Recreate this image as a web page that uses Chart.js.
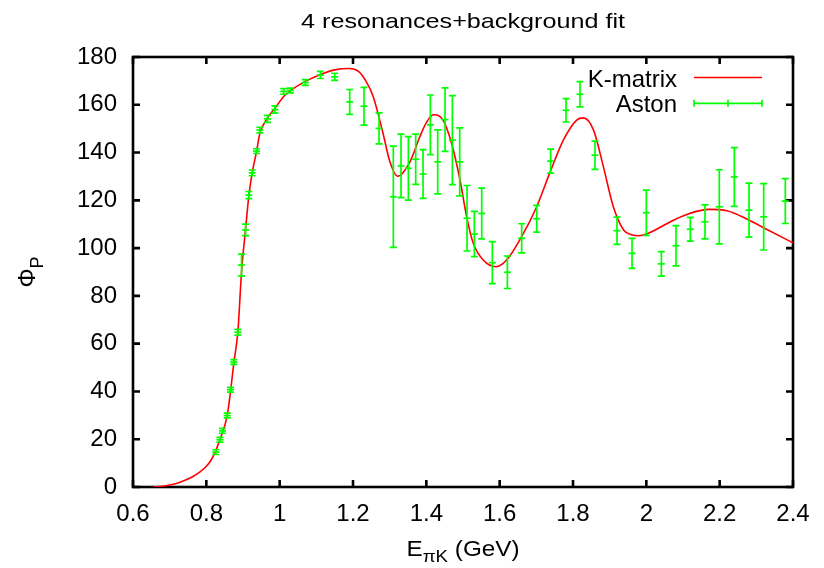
<!DOCTYPE html>
<html>
<head>
<meta charset="utf-8">
<script src="https://cdn.jsdelivr.net/npm/chart.js@4/dist/chart.umd.min.js"></script>
<style>
html,body{margin:0;padding:0;background:#fff;}
#wrap{width:824px;height:568px;position:relative;}
</style>
</head>
<body>
<div id="wrap"><canvas id="c" width="824" height="568"></canvas></div>
<script>
// ---------- data ----------
const titleText = "4 resonances+background fit";
const xTicks = [0.6, 0.8, 1.0, 1.2, 1.4, 1.6, 1.8, 2.0, 2.2, 2.4];
const yTicks = [0, 20, 40, 60, 80, 100, 120, 140, 160, 180];

// K-matrix fit curve
const fitX = [0.655, 0.68, 0.70, 0.72, 0.74, 0.76, 0.78, 0.80, 0.812, 0.823, 0.84, 0.857, 0.866, 0.875, 0.886, 0.896, 0.907, 0.916, 0.925, 0.937, 0.946, 0.967, 0.987, 1.011, 1.03, 1.07, 1.11, 1.15, 1.19, 1.215, 1.235, 1.255, 1.282, 1.30, 1.322, 1.355, 1.382, 1.40, 1.419, 1.446, 1.469, 1.492, 1.51, 1.528, 1.555, 1.59, 1.619, 1.66, 1.701, 1.738, 1.774, 1.81, 1.828, 1.856, 1.883, 1.91, 1.938, 1.96, 1.98, 2.0, 2.029, 2.074, 2.12, 2.17, 2.22, 2.274, 2.329, 2.40];
const fitY = [0, 0.3, 0.8, 1.6, 2.7, 4.1, 6.0, 8.7, 11.0, 14.3, 21, 30, 40, 52, 65, 90, 108, 122, 131.5, 140.5, 148, 154.5, 158.5, 163.5, 166, 169.8, 172.6, 174.6, 175.2, 174, 170, 163.5, 148, 136.5, 130.1, 136, 146.5, 152.5, 155.8, 153.5, 143.8, 128.4, 113.1, 102, 95, 92.2, 95, 104.8, 117.3, 132, 145.3, 153.6, 154.5, 149.4, 134, 117.3, 107.6, 105.6, 105.2, 105.9, 108.0, 111.7, 114.6, 116.2, 115.6, 112.2, 107.8, 102.2];

// Aston data with symmetric errors
const astonX = [0.826, 0.837, 0.844, 0.857, 0.866, 0.875, 0.886, 0.896, 0.907, 0.916, 0.925, 0.937, 0.946, 0.967, 0.987, 1.011, 1.029, 1.070, 1.111, 1.150, 1.191, 1.230, 1.271, 1.310, 1.331, 1.351, 1.371, 1.391, 1.411, 1.431, 1.451, 1.471, 1.491, 1.511, 1.531, 1.551, 1.580, 1.621, 1.660, 1.701, 1.739, 1.781, 1.819, 1.860, 1.920, 1.961, 2.000, 2.041, 2.081, 2.120, 2.160, 2.199, 2.240, 2.280, 2.320, 2.379];
const astonY = [14.6, 19.8, 23.5, 29.9, 40.7, 52.3, 64.8, 92.9, 107.6, 122.2, 131.5, 140.6, 149.4, 154.1, 158.0, 165.6, 166.0, 169.3, 172.5, 171.7, 161.2, 159.4, 150.1, 121.5, 134.4, 133.4, 137.2, 131.0, 151.6, 136.1, 153.8, 145.2, 136.1, 112.5, 105.9, 114.5, 93.9, 89.9, 104.1, 112.3, 136.4, 157.7, 164.4, 138.9, 107.3, 97.8, 114.8, 93.4, 101.0, 107.9, 111.0, 117.3, 129.8, 115.9, 113.1, 119.7];
const astonErr = [1, 1, 1, 1, 1, 1, 1.2, 4.6, 2.4, 1.5, 1.2, 1, 1.2, 1.5, 1.5, 1.2, 1, 1.2, 1.5, 1.5, 5.2, 7.9, 6.5, 21.2, 13.3, 13.3, 10.5, 10.2, 12.5, 13.4, 13.3, 18.6, 14.2, 13.7, 9.5, 10.6, 8.8, 6.8, 6.1, 5.6, 5.0, 4.9, 5.3, 5.9, 5.7, 6.3, 9.5, 5.1, 8.4, 5.0, 7.1, 15.5, 12.3, 11.3, 13.9, 9.4];

// ---------- drawing ----------
const FONT = "'Liberation Sans', Arial, Helvetica, sans-serif";
const RED = '#ff0000';
const GREEN = '#00ff00';

const decorPlugin = {
  id: 'decor',
  beforeDatasetsDraw(chart) {
    const {ctx, chartArea: a, scales: {x, y}} = chart;
    ctx.save();
    ctx.strokeStyle = '#000';
    ctx.lineWidth = 2.6;
    ctx.strokeRect(a.left, a.top, a.right - a.left, a.bottom - a.top);
    ctx.beginPath();
    const tl = 7;
    xTicks.forEach(v => {
      const px = x.getPixelForValue(v);
      ctx.moveTo(px, a.bottom); ctx.lineTo(px, a.bottom - tl);
      ctx.moveTo(px, a.top); ctx.lineTo(px, a.top + tl);
    });
    yTicks.forEach(v => {
      const py = y.getPixelForValue(v);
      ctx.moveTo(a.left, py); ctx.lineTo(a.left + tl, py);
      ctx.moveTo(a.right, py); ctx.lineTo(a.right - tl, py);
    });
    ctx.stroke();
    ctx.restore();
  },
  afterDatasetsDraw(chart) {
    const {ctx, scales: {x, y}} = chart;
    ctx.save();
    ctx.strokeStyle = GREEN;
    ctx.lineWidth = 1.7;
    const cap = 3.5;
    ctx.beginPath();
    astonX.forEach((xv, i) => {
      const px = x.getPixelForValue(xv);
      const p1 = y.getPixelForValue(astonY[i] - astonErr[i]);
      const p2 = y.getPixelForValue(astonY[i] + astonErr[i]);
      ctx.moveTo(px, p1); ctx.lineTo(px, p2);
      ctx.moveTo(px - cap, p1); ctx.lineTo(px + cap, p1);
      ctx.moveTo(px - cap, p2); ctx.lineTo(px + cap, p2);
    });
    ctx.stroke();
    ctx.restore();
  },
  afterDraw(chart) {
    const {ctx, chartArea: a} = chart;
    ctx.save();
    ctx.fillStyle = '#000';
    // title (slightly widened like the reference)
    ctx.font = `21px ${FONT}`;
    ctx.textBaseline = 'alphabetic';
    const tw = ctx.measureText(titleText).width;
    const sx = 324 / tw;
    const cx = (a.left + a.right) / 2;
    ctx.save();
    ctx.translate(cx, 28);
    ctx.scale(sx, 1);
    ctx.textAlign = 'center';
    ctx.fillText(titleText, 0, 0);
    ctx.restore();

    // x axis title: E_{πK} (GeV)
    const mainF = `22px ${FONT}`, subF = `17px ${FONT}`;
    ctx.font = mainF; const wE = ctx.measureText('E').width;
    const wRest = ctx.measureText(' (GeV)').width;
    ctx.font = subF; const wSub = ctx.measureText('πK').width;
    const total = wE + wSub + wRest;
    const xs = 113 / total;
    ctx.save();
    ctx.translate(cx - total * xs / 2, 556);
    ctx.scale(xs, 1);
    ctx.textAlign = 'left';
    ctx.font = mainF; ctx.fillText('E', 0, 0);
    ctx.font = subF; ctx.fillText('πK', wE, 6);
    ctx.font = mainF; ctx.fillText(' (GeV)', wE + wSub, 0);
    ctx.restore();

    // y axis title: Φ_P (rotated)
    ctx.save();
    ctx.font = `24px ${FONT}`;
    const wPhi = ctx.measureText('Φ').width;
    ctx.font = `18px ${FONT}`;
    const wP = ctx.measureText('P').width;
    const cy = (a.top + a.bottom) / 2;
    ctx.translate(35, cy + (wPhi + wP) / 2);
    ctx.rotate(-Math.PI / 2);
    ctx.textAlign = 'left';
    ctx.font = `24px ${FONT}`; ctx.fillText('Φ', 0, 0);
    ctx.font = `18px ${FONT}`; ctx.fillText('P', wPhi, 8);
    ctx.restore();

    // legend
    ctx.font = `24px ${FONT}`;
    ctx.textAlign = 'right';
    ctx.textBaseline = 'alphabetic';
    const labels = chart.data.datasets.map(d => d.label);
    ctx.fillText(labels[1], 677, 87);
    ctx.fillText(labels[0], 677, 111.5);
    ctx.strokeStyle = RED; ctx.lineWidth = 1.5;
    ctx.beginPath(); ctx.moveTo(694, 77.5); ctx.lineTo(762, 77.5); ctx.stroke();
    ctx.strokeStyle = GREEN; ctx.lineWidth = 1.7;
    ctx.beginPath();
    ctx.moveTo(694, 103.3); ctx.lineTo(762, 103.3);
    [694, 728, 762].forEach(px => { ctx.moveTo(px, 99.8); ctx.lineTo(px, 106.8); });
    ctx.stroke();
    ctx.restore();
  }
};

new Chart(document.getElementById('c'), {
  type: 'scatter',
  data: {
    datasets: [
      {
        label: 'Aston',
        data: astonX.map((xv, i) => ({x: xv, y: astonY[i]})),
        pointStyle: 'line',
        pointRadius: 3.5,
        borderColor: GREEN,
        backgroundColor: GREEN,
        borderWidth: 1.7,
        showLine: false
      },
      {
        label: 'K-matrix',
        type: 'line',
        data: fitX.map((xv, i) => ({x: xv, y: fitY[i]})),
        borderColor: RED,
        borderWidth: 1.6,
        pointRadius: 0,
        fill: false,
        cubicInterpolationMode: 'monotone'
      }
    ]
  },
  options: {
    responsive: false,
    animation: false,
    devicePixelRatio: 1,
    layout: {padding: {top: 57, right: 31, left: 0, bottom: 0}},
    plugins: {legend: {display: false}, title: {display: false}, tooltip: {enabled: false}},
    scales: {
      x: {
        type: 'linear', min: 0.6, max: 2.4,
        afterBuildTicks: s => { s.ticks = xTicks.map(v => ({value: v})); },
        afterFit: s => { s.height = 81; },
        grid: {display: false, drawTicks: false},
        border: {display: false},
        ticks: {padding: 13, color: '#000', font: {family: FONT, size: 24}, maxRotation: 0, autoSkip: false,
                callback: v => String(Number(Number(v).toFixed(1)))}
      },
      y: {
        type: 'linear', min: 0, max: 180,
        afterBuildTicks: s => { s.ticks = yTicks.map(v => ({value: v})); },
        afterFit: s => { s.width = 133; },
        grid: {display: false, drawTicks: false},
        border: {display: false},
        ticks: {padding: 16, color: '#000', font: {family: FONT, size: 24}, autoSkip: false,
                callback: v => String(v)}
      }
    }
  },
  plugins: [decorPlugin]
});
</script>
</body>
</html>
